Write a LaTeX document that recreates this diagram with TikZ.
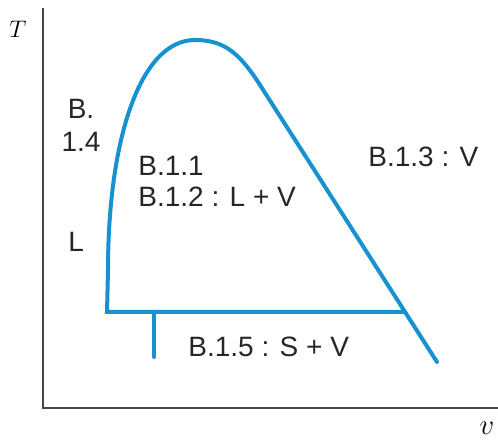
\documentclass[tikz,border=0pt]{standalone}
\usepackage{fontspec}
\setmainfont{Liberation Sans}
\definecolor{curveblue}{RGB}{24,145,208}
\definecolor{axisgray}{RGB}{70,70,70}

\begin{document}
\begin{tikzpicture}[x=0.5pt, y=-0.5pt,
  phase/.style={draw=curveblue, line width=2pt, line cap=round},
  region/.style={font=\fontsize{14}{15.5}\selectfont, text=black!85, inner sep=0pt}]
\useasboundingbox (0,0) rectangle (498,442);

\coordinate (origin) at (43,408);
\coordinate (ytop) at (43,8);
\coordinate (xend) at (498,408);
\coordinate (tripleL) at (107,312);
\coordinate (tripleR) at (403,312);
\coordinate (liq) at (108,270);
\coordinate (crit) at (195,40);
\coordinate (vap) at (260,85);
\coordinate (vapend) at (437,362);
\coordinate (subtop) at (154,312);
\coordinate (subend) at (154,357);

\draw[axisgray, line width=1pt] (ytop) -- (origin) -- (xend);
\node (tlabel) at (18,29) {\fontsize{12.5}{14}\selectfont $T$};
\node (vlabel) at (487,428) {\fontsize{14}{16}\selectfont $v$};

\draw[phase] (tripleR) -- (tripleL) -- (liq) .. controls (108,140) and (140,40) .. (crit)
  .. controls (225,40) and (240,54) .. (vap) -- (vapend);
\draw[phase] (subtop) -- (subend);

\node[region, anchor=base, align=center] (bfour) at (81,152) {B.\\[1pt]1.4};
\node[region, anchor=base west] (liqlabel) at (68,252) {L};
\node[region, anchor=base west, align=left] (twophase) at (138,207) {B.1.1\\B.1.2 : L + V};
\node[region, anchor=base west] (vaplabel) at (368,167) {B.1.3 : V};
\node[region, anchor=base west] (solidlabel) at (188,357) {B.1.5 : S + V};
\end{tikzpicture}
\end{document}
